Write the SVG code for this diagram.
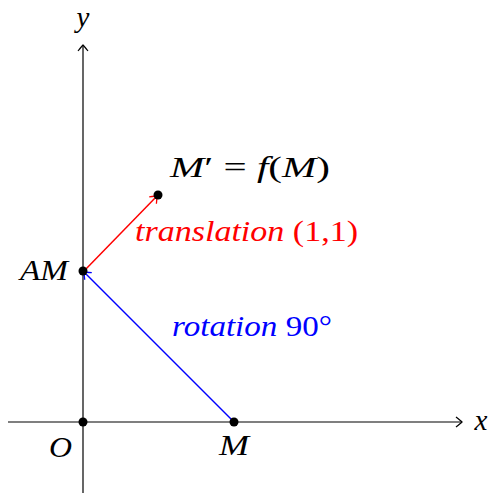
<svg xmlns="http://www.w3.org/2000/svg" width="489" height="493" viewBox="0 0 489 493">
<defs>
<style>
.t{font-family:"Liberation Serif","DejaVu Serif",serif;font-size:29px}
.i{font-style:italic}
.ax{stroke:#000;stroke-width:1.2;fill:none}
</style>
<marker id="toK" viewBox="-8 -6 10 12" markerWidth="10" markerHeight="12" refX="0" refY="0" orient="auto" markerUnits="userSpaceOnUse">
<path d="M-6,-5 Q-1,-1 0,0 Q-1,1 -6,5" fill="none" stroke="#000" stroke-width="1.2"/>
</marker>
<marker id="toR" viewBox="-8 -6 10 12" markerWidth="10" markerHeight="12" refX="0" refY="0" orient="auto" markerUnits="userSpaceOnUse">
<path d="M-6,-5 Q-1,-1 0,0 Q-1,1 -6,5" fill="none" stroke="#f00" stroke-width="1.3"/>
</marker>
<marker id="toB" viewBox="-8 -6 10 12" markerWidth="10" markerHeight="12" refX="0" refY="0" orient="auto" markerUnits="userSpaceOnUse">
<path d="M-6,-5 Q-1,-1 0,0 Q-1,1 -6,5" fill="none" stroke="#00f" stroke-width="1.3"/>
</marker>
</defs>
<g id="connectors">
<line id="x-axis" class="ax" x1="8" y1="422" x2="462" y2="422" marker-end="url(#toK)"/>
<line id="y-axis" class="ax" x1="83" y1="493" x2="83" y2="45" marker-end="url(#toK)"/>
<line id="rotation" x1="234" y1="422" x2="84" y2="272" stroke="#00f" stroke-width="1.5" marker-end="url(#toB)"/>
<line id="translation" x1="84" y1="271" x2="157" y2="196" stroke="#f00" stroke-width="1.5" marker-end="url(#toR)"/>
</g>
<g id="node-O">
<circle cx="83" cy="422" r="4.5" fill="#000"/>
<text class="t i" x="49" y="457" textLength="23" lengthAdjust="spacingAndGlyphs">O</text>
</g>
<g id="node-M">
<circle cx="234" cy="422" r="4.5" fill="#000"/>
<text class="t i" x="219" y="455" textLength="30" lengthAdjust="spacingAndGlyphs">M</text>
</g>
<g id="node-AM">
<circle cx="83" cy="271" r="4.5" fill="#000"/>
<text class="t i" x="20" y="280" textLength="48" lengthAdjust="spacingAndGlyphs">AM</text>
</g>
<g id="node-Mprime">
<circle cx="158" cy="195" r="4.5" fill="#000"/>
<text class="t" x="170" y="177" textLength="160" lengthAdjust="spacingAndGlyphs"><tspan class="i">M</tspan>′ = <tspan class="i">f</tspan>(<tspan class="i">M</tspan>)</text>
</g>
<g id="labels">
<text class="t" x="135" y="241" fill="#f00" textLength="223" lengthAdjust="spacingAndGlyphs"><tspan class="i">translation</tspan> (1,1)</text>
<text class="t" x="172" y="336" fill="#00f" textLength="160" lengthAdjust="spacingAndGlyphs"><tspan class="i">rotation</tspan> 90°</text>
<text class="t i" x="83" y="27" text-anchor="middle">y</text>
<text class="t i" x="481" y="430" text-anchor="middle">x</text>
</g>
</svg>
